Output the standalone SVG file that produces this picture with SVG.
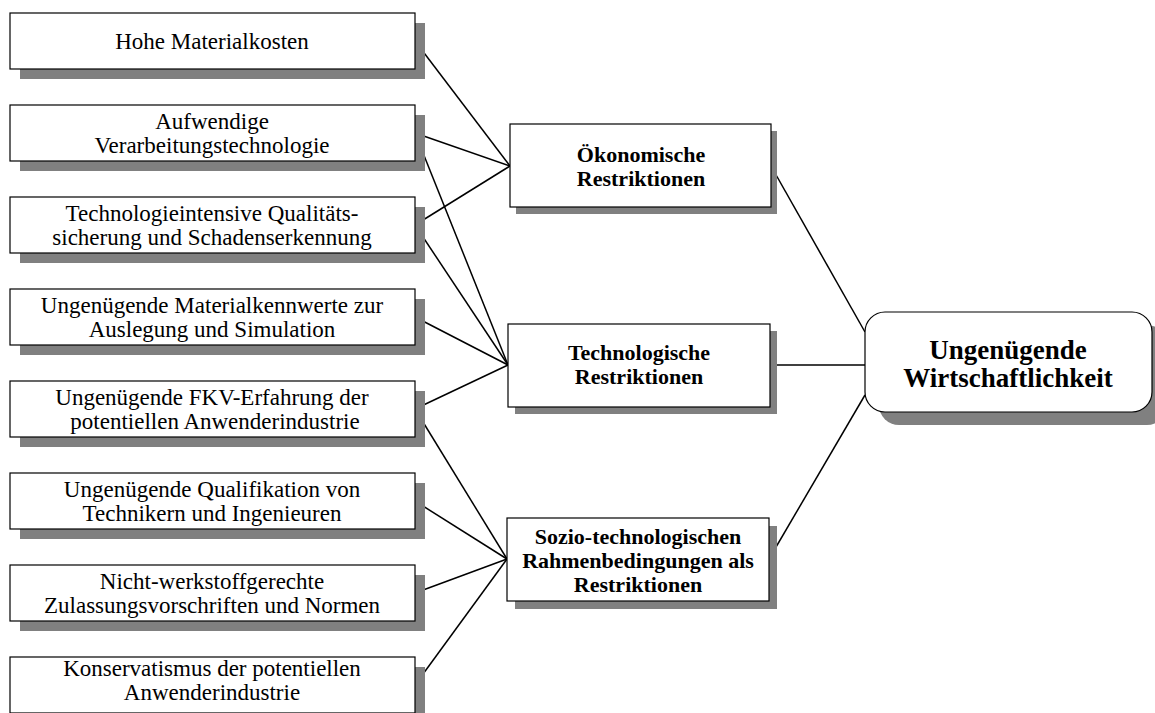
<svg xmlns="http://www.w3.org/2000/svg" width="1155" height="713" viewBox="0 0 1155 713">
  <style>
    .shadow { fill: #808080; stroke: none; }
    .box { fill: #ffffff; stroke: #000000; stroke-width: 1.2; }
    .cause { font-family: "Liberation Serif", "Times New Roman", serif; font-size: 23px; fill: #000; text-anchor: middle; }
    .group { font-family: "Liberation Serif", "Times New Roman", serif; font-size: 22px; font-weight: bold; fill: #000; text-anchor: middle; }
    .result { font-family: "Liberation Serif", "Times New Roman", serif; font-size: 27px; font-weight: bold; fill: #000; text-anchor: middle; }
    .link { stroke: #000000; stroke-width: 1.5; fill: none; }
  </style>
  <rect width="1155" height="713" fill="#ffffff"/>

  <!-- connectors -->
  <g id="connectors" class="link">
    <line x1="415" y1="41" x2="510" y2="166"/>
    <line x1="415" y1="133" x2="510" y2="166"/>
    <line x1="415" y1="133" x2="508" y2="365"/>
    <line x1="415" y1="225" x2="510" y2="166"/>
    <line x1="415" y1="225" x2="508" y2="365"/>
    <line x1="415" y1="317" x2="508" y2="365"/>
    <line x1="415" y1="409" x2="508" y2="365"/>
    <line x1="415" y1="409" x2="507" y2="559"/>
    <line x1="415" y1="501" x2="507" y2="559"/>
    <line x1="415" y1="593" x2="507" y2="559"/>
    <line x1="415" y1="685" x2="507" y2="559"/>
    <line x1="771" y1="166" x2="865" y2="332"/>
    <line x1="770" y1="365" x2="865" y2="365"/>
    <line x1="769" y1="559" x2="865" y2="395"/>
  </g>

  <!-- causes (left column) -->
  <g id="cause-1">
    <rect class="shadow" x="20" y="23" width="405" height="56"/>
    <rect class="box" x="10" y="13" width="405" height="56"/>
    <text class="cause" x="212" y="49">Hohe Materialkosten</text>
  </g>
  <g id="cause-2">
    <rect class="shadow" x="20" y="115" width="405" height="56"/>
    <rect class="box" x="10" y="105" width="405" height="56"/>
    <text class="cause" x="212" y="129">Aufwendige</text>
    <text class="cause" x="212" y="153">Verarbeitungstechnologie</text>
  </g>
  <g id="cause-3">
    <rect class="shadow" x="20" y="207" width="405" height="56"/>
    <rect class="box" x="10" y="197" width="405" height="56"/>
    <text class="cause" x="212" y="221">Technologieintensive Qualitäts-</text>
    <text class="cause" x="212" y="245">sicherung und Schadenserkennung</text>
  </g>
  <g id="cause-4">
    <rect class="shadow" x="20" y="299" width="405" height="56"/>
    <rect class="box" x="10" y="289" width="405" height="56"/>
    <text class="cause" x="212" y="313">Ungenügende Materialkennwerte zur</text>
    <text class="cause" x="212" y="337">Auslegung und Simulation</text>
  </g>
  <g id="cause-5">
    <rect class="shadow" x="20" y="391" width="405" height="56"/>
    <rect class="box" x="10" y="381" width="405" height="56"/>
    <text class="cause" x="212" y="405">Ungenügende FKV-Erfahrung der</text>
    <text class="cause" x="215" y="429">potentiellen Anwenderindustrie</text>
  </g>
  <g id="cause-6">
    <rect class="shadow" x="20" y="483" width="405" height="56"/>
    <rect class="box" x="10" y="473" width="405" height="56"/>
    <text class="cause" x="212" y="497">Ungenügende Qualifikation von</text>
    <text class="cause" x="212" y="521">Technikern und Ingenieuren</text>
  </g>
  <g id="cause-7">
    <rect class="shadow" x="20" y="575" width="405" height="56"/>
    <rect class="box" x="10" y="565" width="405" height="56"/>
    <text class="cause" x="212" y="589">Nicht-werkstoffgerechte</text>
    <text class="cause" x="212" y="613">Zulassungsvorschriften und Normen</text>
  </g>
  <g id="cause-8">
    <rect class="shadow" x="20" y="667" width="405" height="56"/>
    <rect class="box" x="10" y="657" width="405" height="56"/>
    <text class="cause" x="212" y="676">Konservatismus der potentiellen</text>
    <text class="cause" x="212" y="700">Anwenderindustrie</text>
  </g>

  <!-- restriction groups (middle column) -->
  <g id="oekonomisch">
    <rect class="shadow" x="516" y="131" width="261" height="83"/>
    <rect class="box" x="510" y="124" width="261" height="83"/>
    <text class="group" x="641" y="162">Ökonomische</text>
    <text class="group" x="641" y="186">Restriktionen</text>
  </g>
  <g id="technologisch">
    <rect class="shadow" x="515" y="331" width="262" height="83"/>
    <rect class="box" x="508" y="324" width="262" height="83"/>
    <text class="group" x="639" y="360">Technologische</text>
    <text class="group" x="639" y="384">Restriktionen</text>
  </g>
  <g id="soziotechnologisch">
    <rect class="shadow" x="515" y="526" width="262" height="83"/>
    <rect class="box" x="507" y="518" width="262" height="83"/>
    <text class="group" x="638" y="544">Sozio-technologischen</text>
    <text class="group" x="638" y="568">Rahmenbedingungen als</text>
    <text class="group" x="638" y="592">Restriktionen</text>
  </g>

  <!-- overall result -->
  <g id="wirtschaftlichkeit">
    <rect class="shadow" x="879" y="325" width="288" height="100" rx="20" ry="20"/>
    <rect class="box" x="865" y="312" width="287" height="100" rx="20" ry="20"/>
    <text class="result" x="1008" y="359">Ungenügende</text>
    <text class="result" x="1008" y="387">Wirtschaftlichkeit</text>
  </g>
</svg>
